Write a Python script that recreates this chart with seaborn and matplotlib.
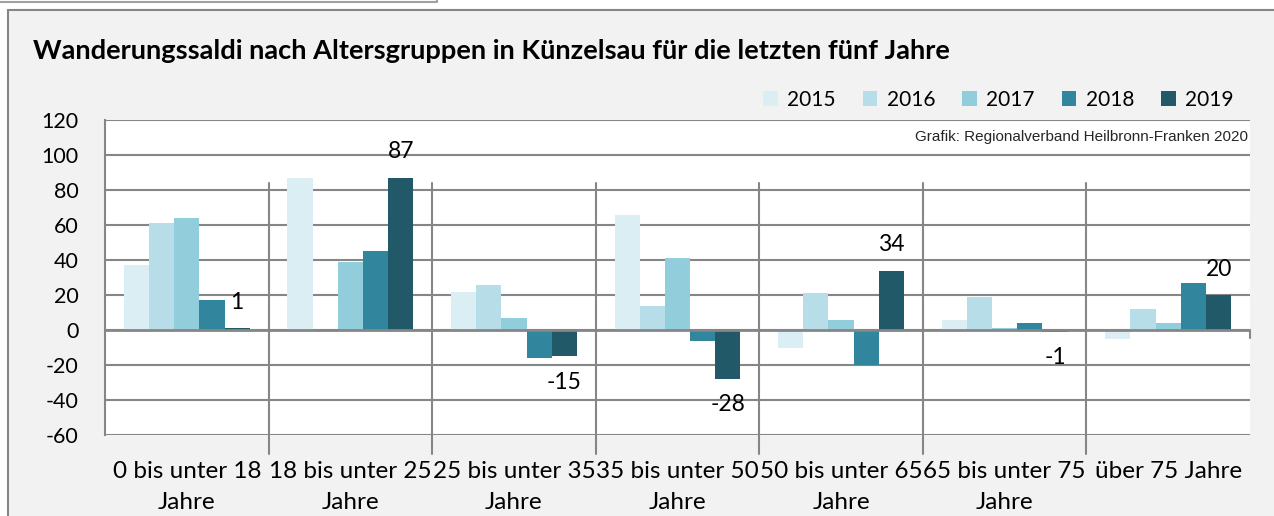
import numpy as np
import pandas as pd
import matplotlib.pyplot as plt
import matplotlib.patches as mpatches
from matplotlib.lines import Line2D
import seaborn as sns

# Data
groups = ['0 bis unter 18\nJahre', '18 bis unter 25\nJahre', '25 bis unter 35\nJahre',
          '35 bis unter 50\nJahre', '50 bis unter 65\nJahre', '65 bis unter 75\nJahre',
          'über 75 Jahre']
years = ['2015', '2016', '2017', '2018', '2019']
saldo_2015 = [37, 87, 22, 66, -10, 6, -5]
saldo_2016 = [61, -1, 26, 14, 21, 19, 12]
saldo_2017 = [64, 39, 7, 41, 6, 1, 4]
saldo_2018 = [17, 45, -16, -6, -20, 4, 27]
saldo_2019 = [1, 87, -15, -28, 34, -1, 20]

colors = ['#DAEEF3', '#B7DEE8', '#92CDDC', '#31859C', '#215968']
grid_col = '#868686'

df = pd.DataFrame({
    'Gruppe': groups * 5,
    'Jahr': [y for y in years for _ in groups],
    'Saldo': saldo_2015 + saldo_2016 + saldo_2017 + saldo_2018 + saldo_2019,
})

sns.set_style('white')
plt.rcParams['font.family'] = ['Lato', 'DejaVu Sans']
plt.rcParams['text.color'] = 'black'
plt.rcParams['xtick.labelcolor'] = 'black'
plt.rcParams['ytick.labelcolor'] = 'black'
plt.rcParams['axes.unicode_minus'] = False

W, H = 1274, 516
fig = plt.figure(figsize=(W / 100, H / 100), dpi=100)
fig.patch.set_facecolor('white')

# outer gray frame and the small box edge at top left
fig.patches.append(mpatches.Rectangle((8 / W, -0.01), 1.01 - 8 / W, 1.01 - 10 / H,
                                      transform=fig.transFigure, facecolor='#f2f2f2',
                                      edgecolor=grid_col, lw=1.5, zorder=-5))
fig.lines.append(Line2D([0, 437 / W, 437 / W], [1 - 2 / H, 1 - 2 / H, 1.0],
                        transform=fig.transFigure, color='#a0a0a0', lw=1.5, zorder=-4))

ax = fig.add_axes([105 / W, 81 / H, 1145 / W, 315 / H])
ax.set_facecolor('white')
sns.barplot(data=df, x='Gruppe', y='Saldo', hue='Jahr', palette=colors, width=0.77,
            gap=0, saturation=1, errorbar=None, linewidth=0, ax=ax, zorder=3)

ax.set_xlim(-0.5, 6.5)
ax.set_ylim(-60, 120)
ax.set_yticks(range(-60, 121, 20))
ax.set_xlabel('')
ax.set_ylabel('')
ax.grid(axis='y', color=grid_col, lw=1.5)
ax.set_axisbelow(True)
for s in ['top', 'right', 'bottom']:
    ax.spines[s].set_visible(False)
ax.spines['left'].set_color(grid_col)
ax.spines['left'].set_linewidth(1.5)
ax.tick_params(axis='y', length=8, width=1.5, color=grid_col, labelsize=15.5, pad=11)
ax.tick_params(axis='x', length=0, labelsize=17.5, pad=19)
for lbl in ax.get_xticklabels():
    lbl.set_linespacing(1.55)

# category separators
for b in np.arange(0.5, 6.5):
    ax.plot([b, b], [-71, 84], color=grid_col, lw=1.5, clip_on=False, zorder=1)
ax.axhline(0, color=grid_col, lw=2, zorder=4)
ax.plot([6.5, 6.5], [0, -4.5], color=grid_col, lw=1.5, clip_on=False, zorder=4)

# labels for 2019 only
ax.bar_label(ax.containers[4], labels=[str(v) for v in saldo_2019], padding=11, fontsize=16.5)

handles, labels = ax.get_legend_handles_labels()
ax.get_legend().remove()
fig.legend(handles, labels, ncol=5, loc='center right', bbox_to_anchor=(1242 / W, 1 - 100 / H),
           frameon=False, fontsize=15, handlelength=0.7, handleheight=0.7,
           handletextpad=0.45, columnspacing=1.3, borderaxespad=0)

fig.text(33 / W, 1 - 51 / H, 'Wanderungssaldi nach Altersgruppen in Künzelsau für die letzten fünf Jahre',
         fontsize=19.6, fontweight='bold', va='center')
ax.text(0.998, 0.946, 'Grafik: Regionalverband Heilbronn-Franken 2020', transform=ax.transAxes,
        ha='right', va='center', fontsize=11, family='Liberation Sans', color='#262626')

fig.savefig('out.png', dpi=100)
